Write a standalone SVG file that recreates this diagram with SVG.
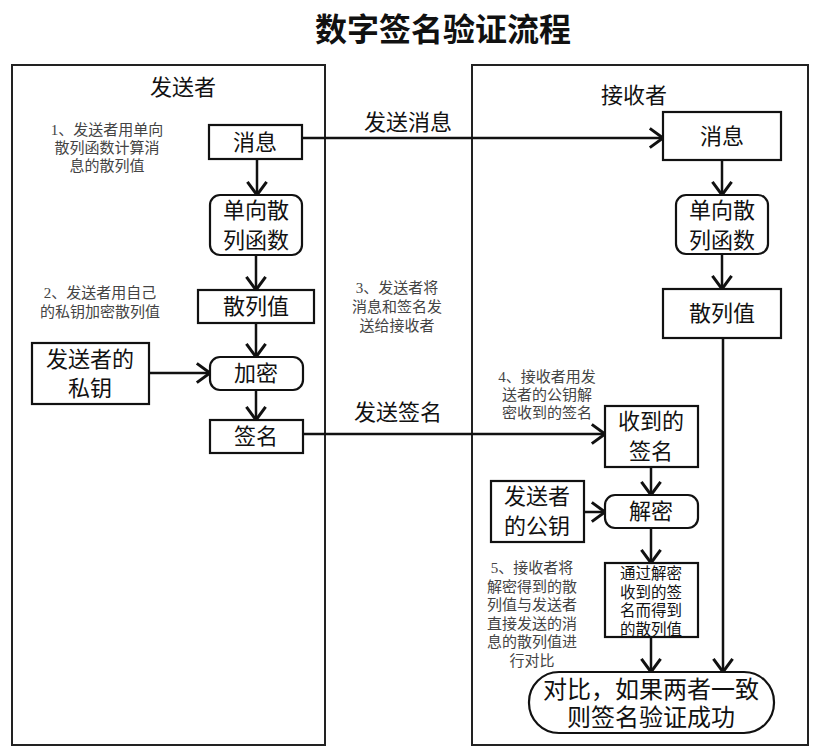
<svg xmlns="http://www.w3.org/2000/svg" width="821" height="751" viewBox="0 0 821 751">
<style>
.panel{fill:#fff;stroke:#222;stroke-width:2}
.box{fill:#fff;stroke:#111;stroke-width:2.2}
.t{font-family:"Liberation Sans","Noto Sans CJK SC",sans-serif;fill:#111;text-anchor:middle;dominant-baseline:central}
.b{font-size:22px}
.sm{font-size:15.5px}
.note{font-family:"Liberation Serif","Noto Sans CJK SC",serif;font-size:15px;fill:#444;text-anchor:middle;dominant-baseline:central}
.c{fill:none;stroke:#111;stroke-width:2.5}
</style>
<defs>
<marker id="ah" markerUnits="userSpaceOnUse" markerWidth="24" markerHeight="24" viewBox="-14 -10 18 20" refX="0" refY="0" orient="auto">
<path d="M-11,-8 L0,0 L-11,8" fill="none" stroke="#111" stroke-width="2.5"/>
</marker>
</defs>
<rect width="821" height="751" fill="#fff"/>
<text class="t" x="443" y="30" style="font-size:32px;font-weight:bold">数字签名验证流程</text>
<g id="sender-panel">
<rect class="panel" x="12" y="65" width="313" height="680"/>
<text class="t" x="183" y="87" style="font-size:22px">发送者</text>
</g>
<g id="receiver-panel">
<rect class="panel" x="472" y="65" width="336" height="680"/>
<text class="t" x="634" y="95" style="font-size:22px">接收者</text>
</g>
<g id="notes">
<text class="note" x="107" y="130">1、发送者用单向<tspan x="107" dy="18">散列函数计算消</tspan><tspan x="107" dy="18">息的散列值</tspan></text>
<text class="note" x="100" y="293">2、发送者用自己<tspan x="100" dy="19">的私钥加密散列值</tspan></text>
<text class="note" x="397" y="288">3、发送者将<tspan x="397" dy="19">消息和签名发</tspan><tspan x="397" dy="19">送给接收者</tspan></text>
<text class="note" x="547" y="377">4、接收者用发<tspan x="547" dy="18">送者的公钥解</tspan><tspan x="547" dy="18">密收到的签名</tspan></text>
<text class="note" x="532" y="568">5、接收者将<tspan x="532" dy="18.6">解密得到的散</tspan><tspan x="532" dy="18.6">列值与发送者</tspan><tspan x="532" dy="18.6">直接发送的消</tspan><tspan x="532" dy="18.6">息的散列值进</tspan><tspan x="532" dy="18.6">行对比</tspan></text>
</g>
<g id="connectors">
<line class="c" x1="302" y1="138" x2="663" y2="138" marker-end="url(#ah)"/>
<text class="t" x="408" y="122" style="font-size:22px">发送消息</text>
<line class="c" x1="303" y1="434" x2="605" y2="434" marker-end="url(#ah)"/>
<text class="t" x="398" y="412" style="font-size:22px">发送签名</text>
<line class="c" x1="257" y1="159" x2="257" y2="195" marker-end="url(#ah)"/>
<line class="c" x1="256" y1="255" x2="256" y2="290" marker-end="url(#ah)"/>
<line class="c" x1="256" y1="323" x2="256" y2="357" marker-end="url(#ah)"/>
<line class="c" x1="149" y1="373" x2="210" y2="373" marker-end="url(#ah)"/>
<line class="c" x1="256" y1="390" x2="256" y2="420" marker-end="url(#ah)"/>
<line class="c" x1="722" y1="160" x2="722" y2="195" marker-end="url(#ah)"/>
<line class="c" x1="722" y1="254" x2="722" y2="289" marker-end="url(#ah)"/>
<line class="c" x1="723" y1="338" x2="723" y2="672" marker-end="url(#ah)"/>
<line class="c" x1="651" y1="467" x2="651" y2="495" marker-end="url(#ah)"/>
<line class="c" x1="584" y1="512" x2="605" y2="512" marker-end="url(#ah)"/>
<line class="c" x1="651" y1="528" x2="651" y2="563" marker-end="url(#ah)"/>
<line class="c" x1="651" y1="637" x2="651" y2="672" marker-end="url(#ah)"/>
</g>
<g id="s-msg"><rect class="box" x="209" y="125" width="93" height="34"/><text class="t b" x="255" y="142">消息</text></g>
<g id="s-hashfn"><rect class="box" x="210" y="195" width="92" height="60" rx="10"/><text class="t b" x="256" y="210">单向散<tspan x="256" dy="30">列函数</tspan></text></g>
<g id="s-hash"><rect class="box" x="198" y="290" width="116" height="33"/><text class="t b" x="256" y="306">散列值</text></g>
<g id="s-key"><rect class="box" x="32" y="343" width="117" height="61"/><text class="t b" x="90" y="359">发送者的<tspan x="90" dy="29">私钥</tspan></text></g>
<g id="s-enc"><rect class="box" x="210" y="357" width="93" height="33" rx="10"/><text class="t b" x="256" y="373">加密</text></g>
<g id="s-sig"><rect class="box" x="210" y="420" width="93" height="33"/><text class="t b" x="256" y="436">签名</text></g>
<g id="r-msg"><rect class="box" x="663" y="112" width="118" height="48"/><text class="t b" x="722" y="136">消息</text></g>
<g id="r-hashfn"><rect class="box" x="676" y="195" width="92" height="59" rx="10"/><text class="t b" x="722" y="210">单向散<tspan x="722" dy="30">列函数</tspan></text></g>
<g id="r-hash"><rect class="box" x="663" y="289" width="118" height="49"/><text class="t b" x="722" y="313">散列值</text></g>
<g id="r-sig"><rect class="box" x="605" y="406" width="93" height="61"/><text class="t b" x="651" y="421">收到的<tspan x="651" dy="30">签名</tspan></text></g>
<g id="r-key"><rect class="box" x="491" y="481" width="93" height="61"/><text class="t b" x="537" y="496">发送者<tspan x="537" dy="30">的公钥</tspan></text></g>
<g id="r-dec"><rect class="box" x="605" y="495" width="93" height="33" rx="10"/><text class="t b" x="651" y="511">解密</text></g>
<g id="r-dhash"><rect class="box" x="605" y="563" width="93" height="74"/><text class="t sm" x="651" y="573">通过解密<tspan x="651" dy="18.5">收到的签</tspan><tspan x="651" dy="18.5">名而得到</tspan><tspan x="651" dy="18.5">的散列值</tspan></text></g>
<g id="r-cmp"><rect class="box" x="529" y="672" width="245" height="61" rx="30"/><text class="t" x="651" y="689" style="font-size:24px">对比，如果两者一致<tspan x="651" dy="28">则签名验证成功</tspan></text></g>
</svg>
